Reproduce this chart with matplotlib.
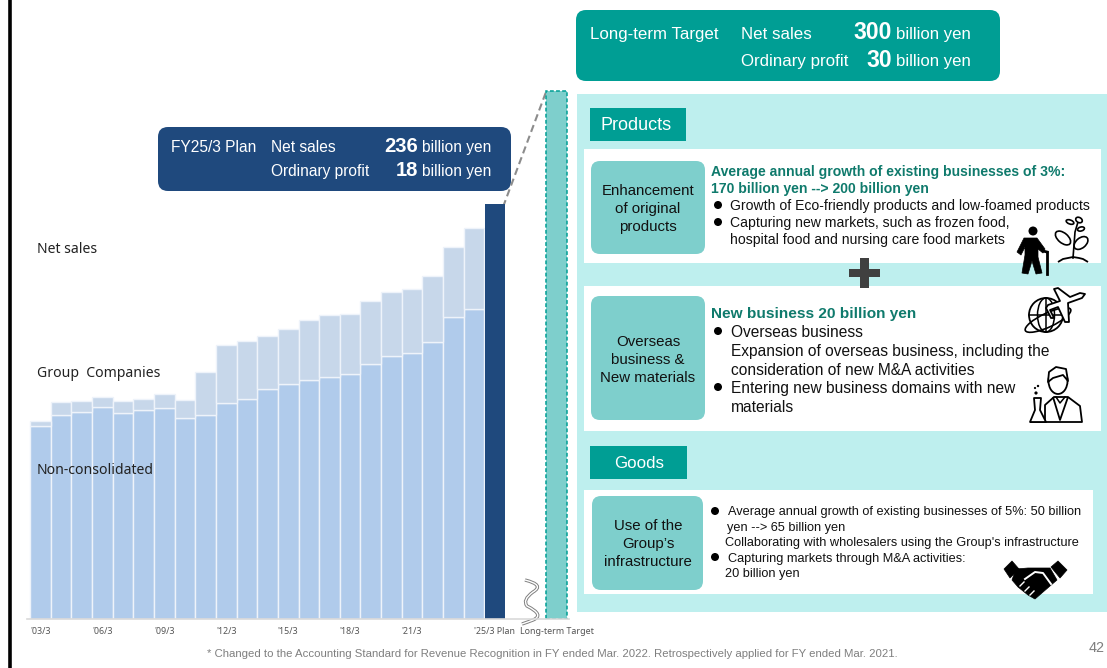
import numpy as np
from matplotlib import pyplot as plt
from matplotlib.patches import Circle, Ellipse, FancyBboxPatch, PathPatch, Polygon, Rectangle
from matplotlib.path import Path

plt.rcParams['font.family'] = ['Liberation Sans', 'DejaVu Sans']

# billion yen, FY ended March
years = list(range(22))
non_consolidated = [109.7, 115.9, 117.6, 120.5, 117.0, 118.7, 119.9, 114.2, 115.9, 122.7, 125.0,
                    130.9, 133.5, 135.8, 137.5, 139.2, 144.9, 149.4, 151.1, 157.4, 171.6, 176.1]
group_companies = [2.8, 7.4, 6.3, 5.6, 6.9, 6.3, 7.9, 10.2, 24.4, 32.7, 33.0,
                   29.9, 31.3, 34.1, 35.2, 34.1, 35.8, 36.4, 36.4, 37.5, 39.8, 46.1]
plan_value = 236
target_value = 300
tick_positions = [0, 3, 6, 9, 12, 15, 18, 22, 25]
tick_labels = ["'03/3", "'06/3", "'09/3", "'12/3", "'15/3", "'18/3", "'21/3",
               "'25/3 Plan", "Long-term Target"]

NAVY = '#1F497D'
TEAL = '#009E94'
MID_TEAL = '#7ECFCC'
PALE = '#BEEFEE'
GREEN_HEAD = '#0F7A6C'

W, H = 1107, 668
fig = plt.figure(figsize=(W / 100, H / 100), dpi=100)

# page layer in pixel units, y pointing down
page = fig.add_axes([0, 0, 1, 1], zorder=1)
page.set_xlim(0, W)
page.set_ylim(H, 0)
page.axis('off')


def box(x0, y0, x1, y1, color, r=0, z=1):
    if r:
        p = FancyBboxPatch((x0 + r, y0 + r), x1 - x0 - 2 * r, y1 - y0 - 2 * r,
                           boxstyle=f'round,pad={r},rounding_size={r}', fc=color, ec='none', zorder=z)
    else:
        p = Rectangle((x0, y0), x1 - x0, y1 - y0, fc=color, ec='none', zorder=z)
    page.add_patch(p)


def txt(x, y, s, size=10.5, color='#111111', ha='left', weight='normal', z=5):
    page.text(x, y + 1.2, s, fontsize=size, color=color, ha=ha, va='center', weight=weight, zorder=z)


def bullet(x, y, r=4.0):
    page.add_patch(Circle((x, y), r, fc='black', ec='none', zorder=5))


page.plot([9.5, 9.5], [0, H], color='black', lw=2.6, zorder=6)

# right-hand panels
box(577, 94, W, 612, PALE)
box(584, 149, 1101, 263, 'white', z=2)
box(584, 286, 1101, 431, 'white', z=2)
box(584, 490, 1093, 594, 'white', z=2)
box(590, 108, 686, 141, TEAL, z=3)
box(590, 446, 687, 479, TEAL, z=3)
box(591, 161, 705, 254, MID_TEAL, r=9, z=3)
box(591, 296, 705, 420, MID_TEAL, r=9, z=3)
box(592, 496, 703, 590, MID_TEAL, r=9, z=3)

# headline boxes
box(576, 10, 1000, 81, TEAL, r=10)
box(158, 127, 511, 191, NAVY, r=10)

txt(590, 33, 'Long-term Target', 12.2, 'white')
txt(741, 33, 'Net sales', 12.2, 'white')
txt(741, 60, 'Ordinary profit', 12.2, 'white')
txt(892, 31.5, '300', 16.6, 'white', ha='right', weight='bold')
txt(892, 59, '30', 16.6, 'white', ha='right', weight='bold')
txt(896, 33, 'billion yen', 12.1, 'white')
txt(896, 60, 'billion yen', 12.1, 'white')

txt(171, 146, 'FY25/3 Plan', 11.2, 'white')
txt(271, 146, 'Net sales', 11.2, 'white')
txt(271, 170, 'Ordinary profit', 11.2, 'white')
txt(418, 145, '236', 14.5, 'white', ha='right', weight='bold')
txt(418, 169, '18', 14.5, 'white', ha='right', weight='bold')
txt(422, 146, 'billion yen', 11.2, 'white')
txt(422, 170, 'billion yen', 11.2, 'white')

txt(601, 124, 'Products', 13, 'white', z=6)
txt(614, 462, 'Goods', 12.2, 'white', z=6)

for y, s in [(190, 'Enhancement'), (208, 'of original'), (226, 'products'),
             (341, 'Overseas'), (359, 'business &'), (377, 'New materials'),
             (525, 'Use of the'), (543, 'Group’s'), (561, 'infrastructure')]:
    txt(648, y, s, 10.8, ha='center', z=6)

txt(711, 171, 'Average annual growth of existing businesses of 3%:', 10.1, GREEN_HEAD, weight='bold')
txt(711, 188, '170 billion yen --> 200 billion yen', 10.1, GREEN_HEAD, weight='bold')
bullet(718, 205)
txt(730, 205, 'Growth of Eco-friendly products and low-foamed products', 10.1)
bullet(718, 222)
txt(730, 222, 'Capturing new markets, such as frozen food,', 10.1)
txt(730, 239, 'hospital food and nursing care food markets', 10.1)

txt(711, 313, 'New business 20 billion yen', 11.1, GREEN_HEAD, weight='bold')
bullet(718, 331)
txt(731, 331, 'Overseas business', 11.2)
txt(731, 350, 'Expansion of overseas business, including the', 11.2)
txt(731, 369, 'consideration of new M&A activities', 11.2)
bullet(718, 387)
txt(731, 387, 'Entering new business domains with new', 11.2)
txt(731, 406, 'materials', 11.2)

bullet(715, 511)
txt(728, 511, 'Average annual growth of existing businesses of 5%: 50 billion', 9.2)
txt(727, 527, 'yen --> 65 billion yen', 9.2)
txt(725, 542, "Collaborating with wholesalers using the Group's infrastructure", 9.2)
bullet(715, 557)
txt(728, 558, 'Capturing markets through M&A activities:', 9.2)
txt(725, 573, '20 billion yen', 9.2)

page.text(898, 654, '* Changed to the Accounting Standard for Revenue Recognition in FY ended Mar. 2022. '
          'Retrospectively applied for FY ended Mar. 2021.', fontsize=8.23, color='#7F7F7F', ha='right', va='center')
txt(1105, 647, '42', 10.4, '#7F7F7F', ha='right')

# plus sign between the two product blocks
box(849, 269, 880, 277, '#404040', z=5)
box(860, 258, 869, 288, '#404040', z=5)

# connector from the plan bar to the target bar
page.plot([503, 546], [207, 92], color='#8C8C8C', lw=1.5, ls=(0, (3.5, 2)), zorder=4)

# axis break
wave = [(525, 580), (545, 585), (533, 592), (522, 600), (527, 606), (545, 615), (533, 620), (528, 622), (522, 624)]
wave_codes = [Path.MOVETO] + [Path.CURVE3] * 8
for lw, c in [(2.4, '#808080'), (1.0, 'white')]:
    page.add_patch(PathPatch(Path(wave, wave_codes), fc='none', ec=c, lw=lw, zorder=8))


# line-art icons
def outline(points, lw=1.3, closed=False, fc='none', z=6):
    page.add_patch(Polygon(points, closed=closed, fc=fc, ec='black', lw=lw, joinstyle='round', zorder=z))


def solid(points, z=6):
    page.add_patch(Polygon(points, closed=True, fc='black', ec='black', lw=0.5, joinstyle='round', zorder=z))


def leaf(x, y, w, h, angle):
    page.add_patch(Ellipse((x, y), w, h, angle=angle, fc='white', ec='black', lw=1.2, zorder=6))


# walking figure with a cane
page.add_patch(Circle((1033, 231), 4.5, fc='black', zorder=6))
solid([(1024, 238), (1037, 238), (1045, 249), (1043, 253), (1038, 249), (1038, 257), (1042, 273),
       (1036, 274), (1032, 261), (1028, 274), (1022, 273), (1025, 255), (1025, 247), (1021, 255), (1017, 252)])
page.plot([1047, 1047], [274, 252], color='black', lw=2.0, zorder=6)
page.plot([1047, 1043], [252, 251], color='black', lw=2.0, zorder=6)

# seedling
page.plot([1073, 1074, 1075, 1078], [258, 245, 232, 222], color='black', lw=1.2, zorder=6)
leaf(1063, 238, 18, 10, 40)
leaf(1081, 243, 16, 10, -40)
leaf(1079, 220, 7, 5, 30)
leaf(1070, 222, 8, 4, 20)
leaf(1081, 229, 7, 4, -15)
outline([(1058, 262), (1063, 259), (1068, 258), (1073, 257), (1079, 258), (1083, 259), (1088, 262)])

# globe and aircraft
page.add_patch(Circle((1046, 315), 17, fc='white', ec='black', lw=1.3, zorder=6))
page.add_patch(Ellipse((1046, 315), 17, 34, fc='none', ec='black', lw=1.1, zorder=6))
page.plot([1029, 1063], [315, 315], color='black', lw=1.1, zorder=6)
page.plot([1046, 1046], [298, 332], color='black', lw=1.1, zorder=6)
page.add_patch(Ellipse((1048, 320), 50, 14, angle=-25, fc='none', ec='black', lw=1.2, zorder=6))
outline([(1085, 294), (1082, 298), (1068, 303), (1069, 322), (1065, 322), (1058, 307), (1050, 310), (1054, 318),
         (1051, 318), (1046, 308), (1048, 305), (1060, 301), (1054, 289), (1058, 288), (1070, 297), (1080, 293)],
        closed=True, fc='white', z=7)

# researcher with a flask
outline([(1045, 422), (1045, 405), (1054, 397), (1068, 397), (1080, 406), (1082, 422), (1030, 422)])
outline([(1053, 397), (1060, 420), (1068, 397)])
page.plot([1056, 1060, 1065], [397, 403, 397], color='black', lw=1.1, zorder=6)
page.add_patch(Ellipse((1058, 381), 19, 26, fc='white', ec='black', lw=1.3, zorder=6))
outline([(1048, 382), (1049, 372), (1056, 367), (1066, 369), (1068, 381), (1063, 375), (1053, 378)],
        closed=True, fc='white', z=7)
outline([(1034, 398), (1041, 398), (1040, 410), (1046, 422), (1030, 422), (1035, 410)], closed=True, fc='white', z=7)
for cx, cy, r in [(1036, 393, 1.6), (1038, 386, 1.2), (1035, 388, 1.1)]:
    page.add_patch(Circle((cx, cy), r, fc='black', zorder=7))

# handshake
solid([(1004, 569), (1012, 561), (1019, 569), (1010, 578)])
solid([(1051, 567), (1058, 561), (1067, 570), (1060, 578)])
solid([(1016, 569), (1028, 568), (1050, 568), (1057, 580), (1050, 586), (1035, 599), (1028, 595),
       (1018, 587), (1012, 580)])
page.plot([1025, 1035, 1043, 1051], [579, 572, 573, 584], color='white', lw=1.4, zorder=7)
for x0, y0 in [(1020, 586), (1025, 591), (1030, 595)]:
    page.plot([x0, x0 + 4], [y0, y0 - 4], color='white', lw=1.0, zorder=7)

# bar chart, axes aligned so that one bar step is 20.66 px and one billion yen 1.76 px
left_px, right_px, base_px, top_px = 27, 568.5, 619, 60
chart = fig.add_axes([left_px / W, 1 - base_px / H, (right_px - left_px) / W, (base_px - top_px) / H], zorder=2)
chart.patch.set_alpha(0)
chart.set_xlim((left_px - 40.25) / 20.66, (right_px - 40.25) / 20.66)
chart.set_ylim(0, (base_px - top_px) / 1.76)

chart.bar(years, non_consolidated, width=1.0, color='#B0CBEB', edgecolor='#EEF3FA', linewidth=1.0)
chart.bar(years, group_companies, bottom=non_consolidated, width=1.0, color='#C7D7EA',
          edgecolor='#EEF3FA', linewidth=1.0)
chart.bar(22, plan_value, width=0.95, color=NAVY, edgecolor='none')
chart.bar(25, target_value, width=1.03, color=MID_TEAL, edgecolor=TEAL, linewidth=1.1, linestyle=(0, (2.5, 1.5)))

chart.set_xticks(tick_positions)
chart.set_xticklabels(tick_labels, fontsize=6.4, color='#555555', family=['Noto Sans', 'DejaVu Sans'])
chart.tick_params(axis='x', length=0, pad=6)
chart.set_yticks([])
for side in ['top', 'right', 'left']:
    chart.spines[side].set_visible(False)
chart.spines['bottom'].set_color('#D9D9D9')
chart.spines['bottom'].set_linewidth(1.2)

# series labels sit over the bars
for y, s in [(249.5, 'Net sales'), (373.5, 'Group  Companies'), (470.5, 'Non-consolidated')]:
    fig.text(37 / W, 1 - y / H, s, fontsize=10.1, color='#222222', family=['Noto Sans', 'DejaVu Sans'],
             va='center', zorder=7)

fig.savefig('out.png', dpi=100)
